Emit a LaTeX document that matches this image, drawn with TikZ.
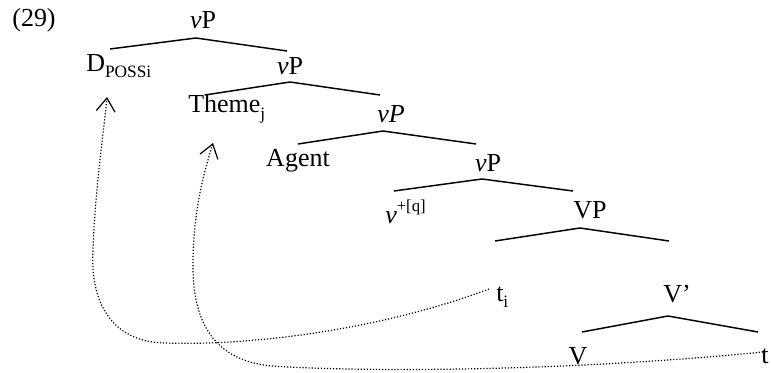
\documentclass[tikz,border=0pt]{standalone}
\usepackage{fontspec}
\setmainfont{Liberation Serif}
\usetikzlibrary{arrows.meta}
\newcommand{\lsub}[1]{\raisebox{-0.25em}{\fontsize{13}{14}\selectfont #1}}
\newcommand{\lsup}[1]{\raisebox{0.45em}{\fontsize{12.5}{14}\selectfont #1}}
\begin{document}
\begin{tikzpicture}[x=0.75pt,y=-0.75pt,
  lab/.style={inner sep=0pt,font=\fontsize{19.5}{22}\selectfont},
  branch/.style={line width=1.1pt},
  move/.style={line width=0.9pt,dash pattern=on 0.9pt off 1.4pt,
     -{Straight Barb[length=10pt,width=14pt,line width=0.9pt]}}]
\useasboundingbox (0,0) rectangle (771,373);
% labels
\node[lab] (ex) at (34,20) {(29)};
\node[lab] (vp1) at (203,20) {\textit{v}P};
\node[lab,anchor=west] (dposs) at (86,66) {D\lsub{POSSi}};
\node[lab] (vp2) at (290,66) {\textit{v}P};
\node[lab,anchor=west] (theme) at (188,109) {Theme\lsub{j}};
\node[lab] (vp3) at (391,114) {\textit{vP}};
\node[lab] (agent) at (298,161) {Agent};
\node[lab] (vp4) at (488,163) {\textit{v}P};
\node[lab,anchor=west] (vq) at (385,212) {\textit{v}\lsup{+[q]}};
\node[lab] (vpp) at (590,210) {VP};
\node[lab,anchor=west] (ti) at (496,297) {t\lsub{i}};
\node[lab] (vbar) at (677,294) {V’};
\node[lab] (v) at (578,356) {V};
\node[lab] (t) at (765,356) {t};
% branch points
\coordinate (a1) at (196,38); \coordinate (l1) at (110,49); \coordinate (r1) at (287,51);
\coordinate (a2) at (290,82); \coordinate (l2) at (205,95); \coordinate (r2) at (380,95);
\coordinate (a3) at (383,131); \coordinate (l3) at (298,144); \coordinate (r3) at (476,144);
\coordinate (a4) at (482,179); \coordinate (l4) at (394,191); \coordinate (r4) at (573,191);
\coordinate (a5) at (580,228); \coordinate (l5) at (495,241); \coordinate (r5) at (669,241);
\coordinate (a6) at (668,316); \coordinate (l6) at (582,332); \coordinate (r6) at (758,332);
\foreach \i in {1,...,6}{\draw[branch] (l\i) -- (a\i) -- (r\i);}
% movement arrows
\coordinate (tiS) at (489,289);
\coordinate (dTip) at (107,97);
\coordinate (tS) at (763,352);
\coordinate (thTip) at (213,143);
\draw[move] (tiS) .. controls (380,330) and (250,346) .. (165,343)
   .. controls (110,342) and (90,300) .. (93,250)
   .. controls (95,190) and (104,130) .. (dTip);
\draw[move] (tS) .. controls (560,372) and (360,372) .. (272,366)
   .. controls (205,360) and (192,310) .. (193,260)
   .. controls (194,205) and (205,170) .. (thTip);
\end{tikzpicture}
\end{document}
